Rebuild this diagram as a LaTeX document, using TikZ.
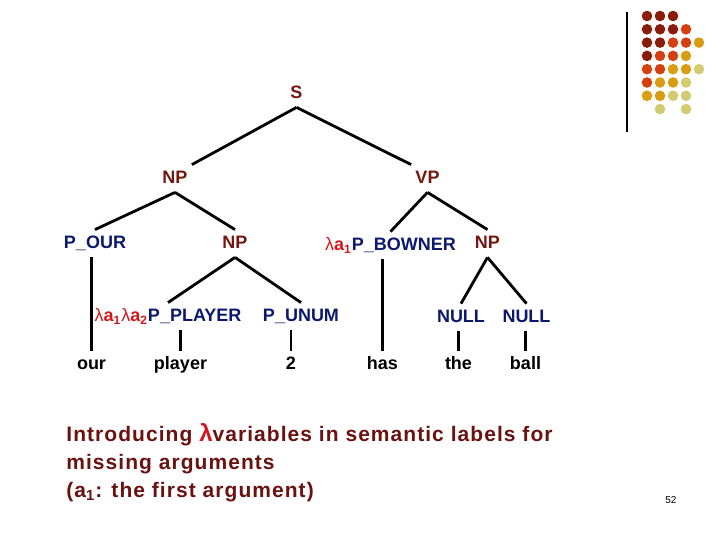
\documentclass[tikz,border=0pt]{standalone}
\usepackage{fontspec}
\setmainfont{Liberation Sans}
\newfontfamily\notefont[LetterSpace=5]{Liberation Sans}
\usepackage{xcolor}
\usepackage{tikz}
\usetikzlibrary{calc}
\definecolor{synred}{HTML}{74170F}
\definecolor{semblue}{HTML}{0C186E}
\definecolor{lamred}{HTML}{D2161B}
\definecolor{notered}{HTML}{6A1210}
\definecolor{dotA}{HTML}{8A1C0C}
\definecolor{dotB}{HTML}{D4400F}
\definecolor{dotC}{HTML}{D89D12}
\definecolor{dotD}{HTML}{D3CB72}

\newcommand{\lamsub}[1]{{\color{lamred}{\mdseries λ}a\textsubscript{#1}}}

\begin{document}
\begin{tikzpicture}[x=0.5pt,y=-0.5pt,
  lbl/.style={anchor=base,inner sep=2pt,text height=7.5pt,text depth=2pt,font=\fontsize{9}{10}\selectfont\bfseries},
  syn/.style={lbl,text=synred},
  sem/.style={lbl,text=semblue},
  wrd/.style={lbl,text=black},
  edge/.style={line width=1.4pt}]
  \useasboundingbox (0,0) rectangle (720,540);
  \draw[line width=0.7pt] (627,12) -- (627,132);
  \foreach \c/\r/\col in {0/0/dotA,1/0/dotA,2/0/dotA,
      0/1/dotA,1/1/dotA,2/1/dotA,3/1/dotB,
      0/2/dotA,1/2/dotA,2/2/dotB,3/2/dotB,4/2/dotC,
      0/3/dotA,1/3/dotB,2/3/dotB,3/3/dotC,
      0/4/dotB,1/4/dotB,2/4/dotC,3/4/dotC,4/4/dotD,
      0/5/dotB,1/5/dotC,2/5/dotC,3/5/dotD,
      0/6/dotC,1/6/dotC,2/6/dotD,3/6/dotD,
      1/7/dotD,3/7/dotD}
    \fill[\col] ({647+13*\c},{16+13.3*\r}) circle (5.3);

  \node[syn] (S) at (296.5,99) {S};
  \node[syn] (NPa) at (175,184) {NP};
  \node[syn] (VP) at (427.5,184) {VP};
  \node[sem] (POUR) at (95,249) {P\_OUR};
  \node[syn] (NPb) at (235,249) {NP};
  \node[sem] (BOWNER) at (390.5,251) {\lamsub{1}P\_BOWNER};
  \node[syn] (NPc) at (487.5,249) {NP};
  \node[sem] (PLAYER) at (168,322) {\lamsub{1}\lamsub{2}P\_PLAYER};
  \node[sem] (PUNUM) at (301,322) {P\_UNUM};
  \node[sem] (NULLa) at (461,323) {NULL};
  \node[sem] (NULLb) at (526.5,323) {NULL};
  \node[wrd] (our) at (91.5,370) {our};
  \node[wrd] (player) at (180.5,370) {player};
  \node[wrd] (two) at (291,370) {2};
  \node[wrd] (has) at (382.5,370) {has};
  \node[wrd] (the) at (458.5,370) {the};
  \node[wrd] (ball) at (525.5,370) {ball};

  \draw[edge] (S.south) -- (NPa.north east);
  \draw[edge] (S.south) -- (VP.north west);
  \draw[edge] (NPa.south) -- (POUR.north);
  \draw[edge] (NPa.south) -- (NPb.north);
  \draw[edge] (VP.south) -- (BOWNER.north);
  \draw[edge] (VP.south) -- (NPc.north);
  \draw[edge] (NPb.south) -- (PLAYER.north);
  \draw[edge] (NPb.south) -- (PUNUM.north);
  \draw[edge] (NPc.south) -- (NULLa.north);
  \draw[edge] (NPc.south) -- (NULLb.north);
  \draw[edge] (our.north |- POUR.south) -- (our.north);
  \draw[edge] (player.north |- PLAYER.south) -- (player.north);
  \draw[edge] (two.north |- PUNUM.south) -- (two.north);
  \draw[edge] (has.north |- BOWNER.south) -- (has.north);
  \draw[edge] (the.north |- NULLa.south) -- (the.north);
  \draw[edge] (ball.north |- NULLb.south) -- (ball.north);

  \node[anchor=north west,inner sep=0pt,align=left,text=notered,
    font=\notefont\fontsize{10.5}{14}\selectfont\bfseries] (note) at (66,423)
    {Introducing {\color{lamred}\fontsize{12}{14}\selectfont λ}variables in semantic labels for\\
     missing arguments\\
     (a\textsubscript{1}: the first argument)};
  \node[font=\fontsize{5}{6}\selectfont] (page) at (671,500) {52};
\end{tikzpicture}
\end{document}
